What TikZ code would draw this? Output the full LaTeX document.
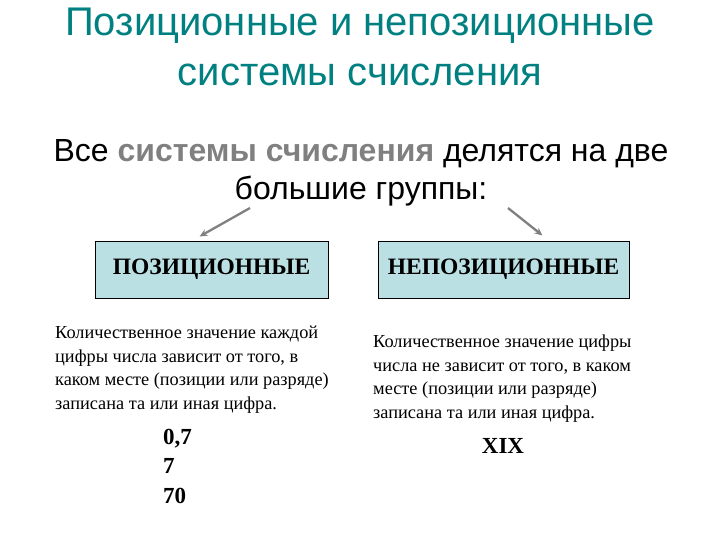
\documentclass[tikz,border=0pt]{standalone}
\usepackage{fontspec}
\setmainfont{Liberation Serif}
\newfontfamily\arialfont{Liberation Sans}
\usetikzlibrary{arrows.meta, positioning}

\definecolor{titleteal}{RGB}{0,128,128}
\definecolor{boxfill}{RGB}{187,224,227}
\definecolor{arrowgray}{RGB}{128,128,128}

\begin{document}
\begin{tikzpicture}[x=1pt, y=-1pt,
        heading/.style={font=\arialfont\fontsize{40}{50}\selectfont, text=titleteal, align=center, inner sep=0pt},
        lead/.style={font=\arialfont\fontsize{32}{38}\selectfont, align=center, inner sep=0pt},
        groupbox/.style={rectangle, draw=black, line width=1pt, fill=boxfill, minimum height=57pt, align=center, font=\bfseries\fontsize{23.5}{26}\selectfont},
        desc/.style={align=left, anchor=north west, inner sep=0pt, font=\fontsize{18.3}{23.5}\selectfont},
        sample/.style={align=left, inner sep=0pt, font=\bfseries\fontsize{23}{29.5}\selectfont},
        split/.style={-{Stealth[length=8pt, width=7pt]}, draw=arrowgray, line width=2.3pt}
    ]
        \useasboundingbox (0,0) rectangle (720,540);

        % ЗАГОЛОВОК
        \node[heading] (title) at (360,47) {Позиционные и непозиционные\\системы счисления};

        \node[lead] (intro) at (361,173) {Все {\bfseries\color{arrowgray}системы счисления} делятся на две\\большие группы:};

        % ГРУППЫ
        \node[groupbox, minimum width=233pt] (pos) at (211.5,269.5) {ПОЗИЦИОННЫЕ};
        \node[groupbox, minimum width=251pt] (nonpos) at (503.5,269.5) {НЕПОЗИЦИОННЫЕ};

        \coordinate (splitL) at (250,208);
        \coordinate (splitR) at (508,208);
        \draw[split] (splitL) -- ([xshift=-12pt, yshift=4pt]pos.north);
        \draw[split] (splitR) -- ([xshift=39pt, yshift=5pt]nonpos.north);

        % ОПИСАНИЯ
        \node[desc] (posdesc) at (55,326) {Количественное значение каждой\\цифры числа зависит от того, в\\каком месте (позиции или разряде)\\записана та или иная цифра.};
        \node[desc] (nonposdesc) at (373,335) {Количественное значение цифры\\числа не зависит от того, в каком\\месте (позиции или разряде)\\записана та или иная цифра.};

        % ПРИМЕРЫ
        \node[sample, anchor=north west] (posnum) at (163,429) {0,7\\7\\70};
        \node[sample] (nonposnum) at (503,446) {XIX};

    \end{tikzpicture}
\end{document}
